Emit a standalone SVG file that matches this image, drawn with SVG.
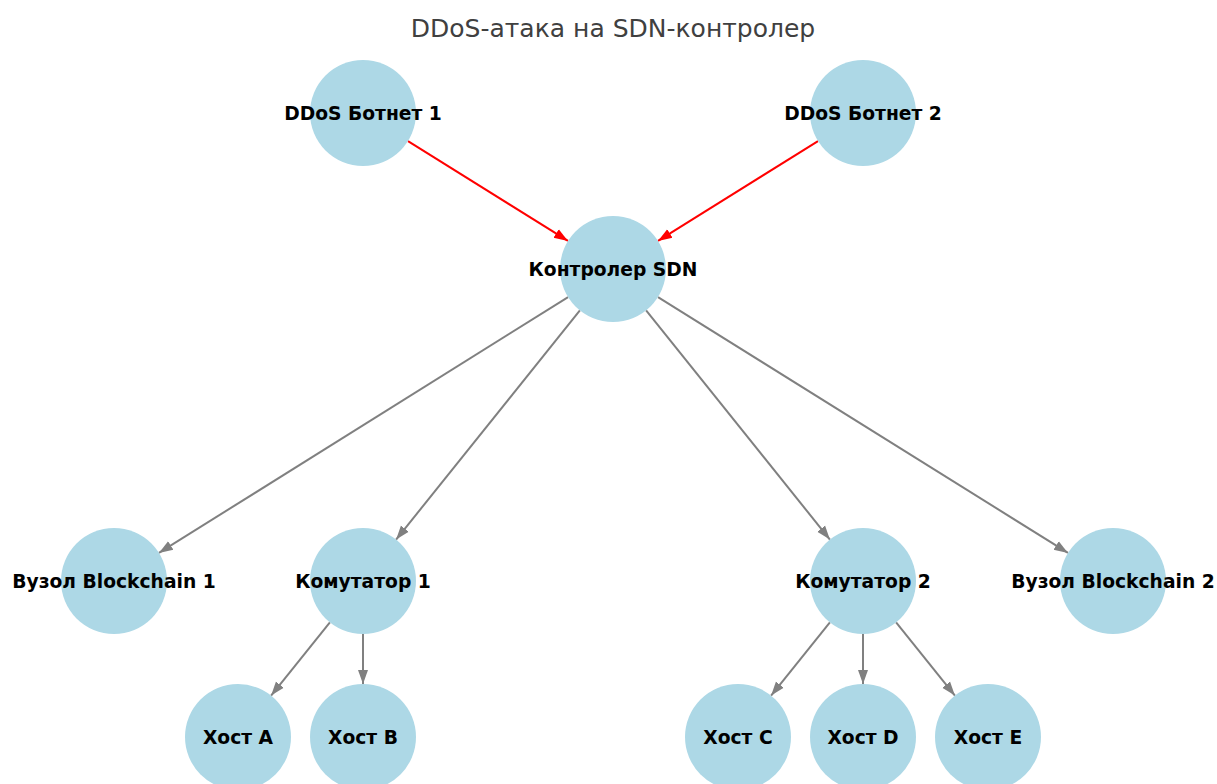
<svg xmlns="http://www.w3.org/2000/svg" width="1217" height="784" viewBox="0 0 1217 784">
<style>
.n circle{fill:#add8e6}
.n text{font-family:"DejaVu Sans",sans-serif;font-weight:bold;font-size:18.7px;fill:#000;text-anchor:middle;dominant-baseline:central}
.title{font-family:"DejaVu Sans",sans-serif;font-size:25px;fill:#404040;text-anchor:middle}
.e{stroke:#808080;stroke-width:2;fill:none}
.r{stroke:#ff0000;stroke-width:2;fill:none}
</style>
<defs>
<marker id="ag" markerUnits="userSpaceOnUse" markerWidth="14" markerHeight="12" viewBox="0 0 14 12" refX="14" refY="6" orient="auto"><path d="M0,1 L14,6 L0,11 Z" fill="#808080"/></marker>
<marker id="ar" markerUnits="userSpaceOnUse" markerWidth="14" markerHeight="12" viewBox="0 0 14 12" refX="14" refY="6" orient="auto"><path d="M0,1 L14,6 L0,11 Z" fill="#ff0000"/></marker>
</defs>
<rect width="1217" height="784" fill="#fff"/>
<text class="title" x="613" y="37">DDoS-атака на SDN-контролер</text>
<g id="edges">
<line class="r" x1="408" y1="141.1" x2="568" y2="240.9" marker-end="url(#ar)"/>
<line class="r" x1="818" y1="141.1" x2="658" y2="240.9" marker-end="url(#ar)"/>
<line class="e" x1="568.1" y1="297.1" x2="158.9" y2="552.9" marker-end="url(#ag)"/>
<line class="e" x1="579.9" y1="310.4" x2="396.1" y2="539.6" marker-end="url(#ag)"/>
<line class="e" x1="646.1" y1="310.4" x2="829.9" y2="539.6" marker-end="url(#ag)"/>
<line class="e" x1="658" y1="297.1" x2="1068" y2="552.9" marker-end="url(#ag)"/>
<line class="e" x1="329.9" y1="622.4" x2="271.1" y2="695.6" marker-end="url(#ag)"/>
<line class="e" x1="363" y1="634" x2="363" y2="684" marker-end="url(#ag)"/>
<line class="e" x1="829.9" y1="622.4" x2="771.1" y2="695.6" marker-end="url(#ag)"/>
<line class="e" x1="863" y1="634" x2="863" y2="684" marker-end="url(#ag)"/>
<line class="e" x1="896.1" y1="622.4" x2="954.9" y2="695.6" marker-end="url(#ag)"/>
</g>
<g id="botnet1" class="n"><circle cx="363" cy="113" r="53"/><text x="363" y="113">DDoS Ботнет 1</text></g>
<g id="botnet2" class="n"><circle cx="863" cy="113" r="53"/><text x="863" y="113">DDoS Ботнет 2</text></g>
<g id="controller" class="n"><circle cx="613" cy="269" r="53"/><text x="613" y="269">Контролер SDN</text></g>
<g id="blockchain1" class="n"><circle cx="114" cy="581" r="53"/><text x="114" y="581">Вузол Blockchain 1</text></g>
<g id="switch1" class="n"><circle cx="363" cy="581" r="53"/><text x="363" y="581">Комутатор 1</text></g>
<g id="switch2" class="n"><circle cx="863" cy="581" r="53"/><text x="863" y="581">Комутатор 2</text></g>
<g id="blockchain2" class="n"><circle cx="1113" cy="581" r="53"/><text x="1113" y="581">Вузол Blockchain 2</text></g>
<g id="hostA" class="n"><circle cx="238" cy="737" r="53"/><text x="238" y="737">Хост A</text></g>
<g id="hostB" class="n"><circle cx="363" cy="737" r="53"/><text x="363" y="737">Хост B</text></g>
<g id="hostC" class="n"><circle cx="738" cy="737" r="53"/><text x="738" y="737">Хост C</text></g>
<g id="hostD" class="n"><circle cx="863" cy="737" r="53"/><text x="863" y="737">Хост D</text></g>
<g id="hostE" class="n"><circle cx="988" cy="737" r="53"/><text x="988" y="737">Хост E</text></g>
</svg>
